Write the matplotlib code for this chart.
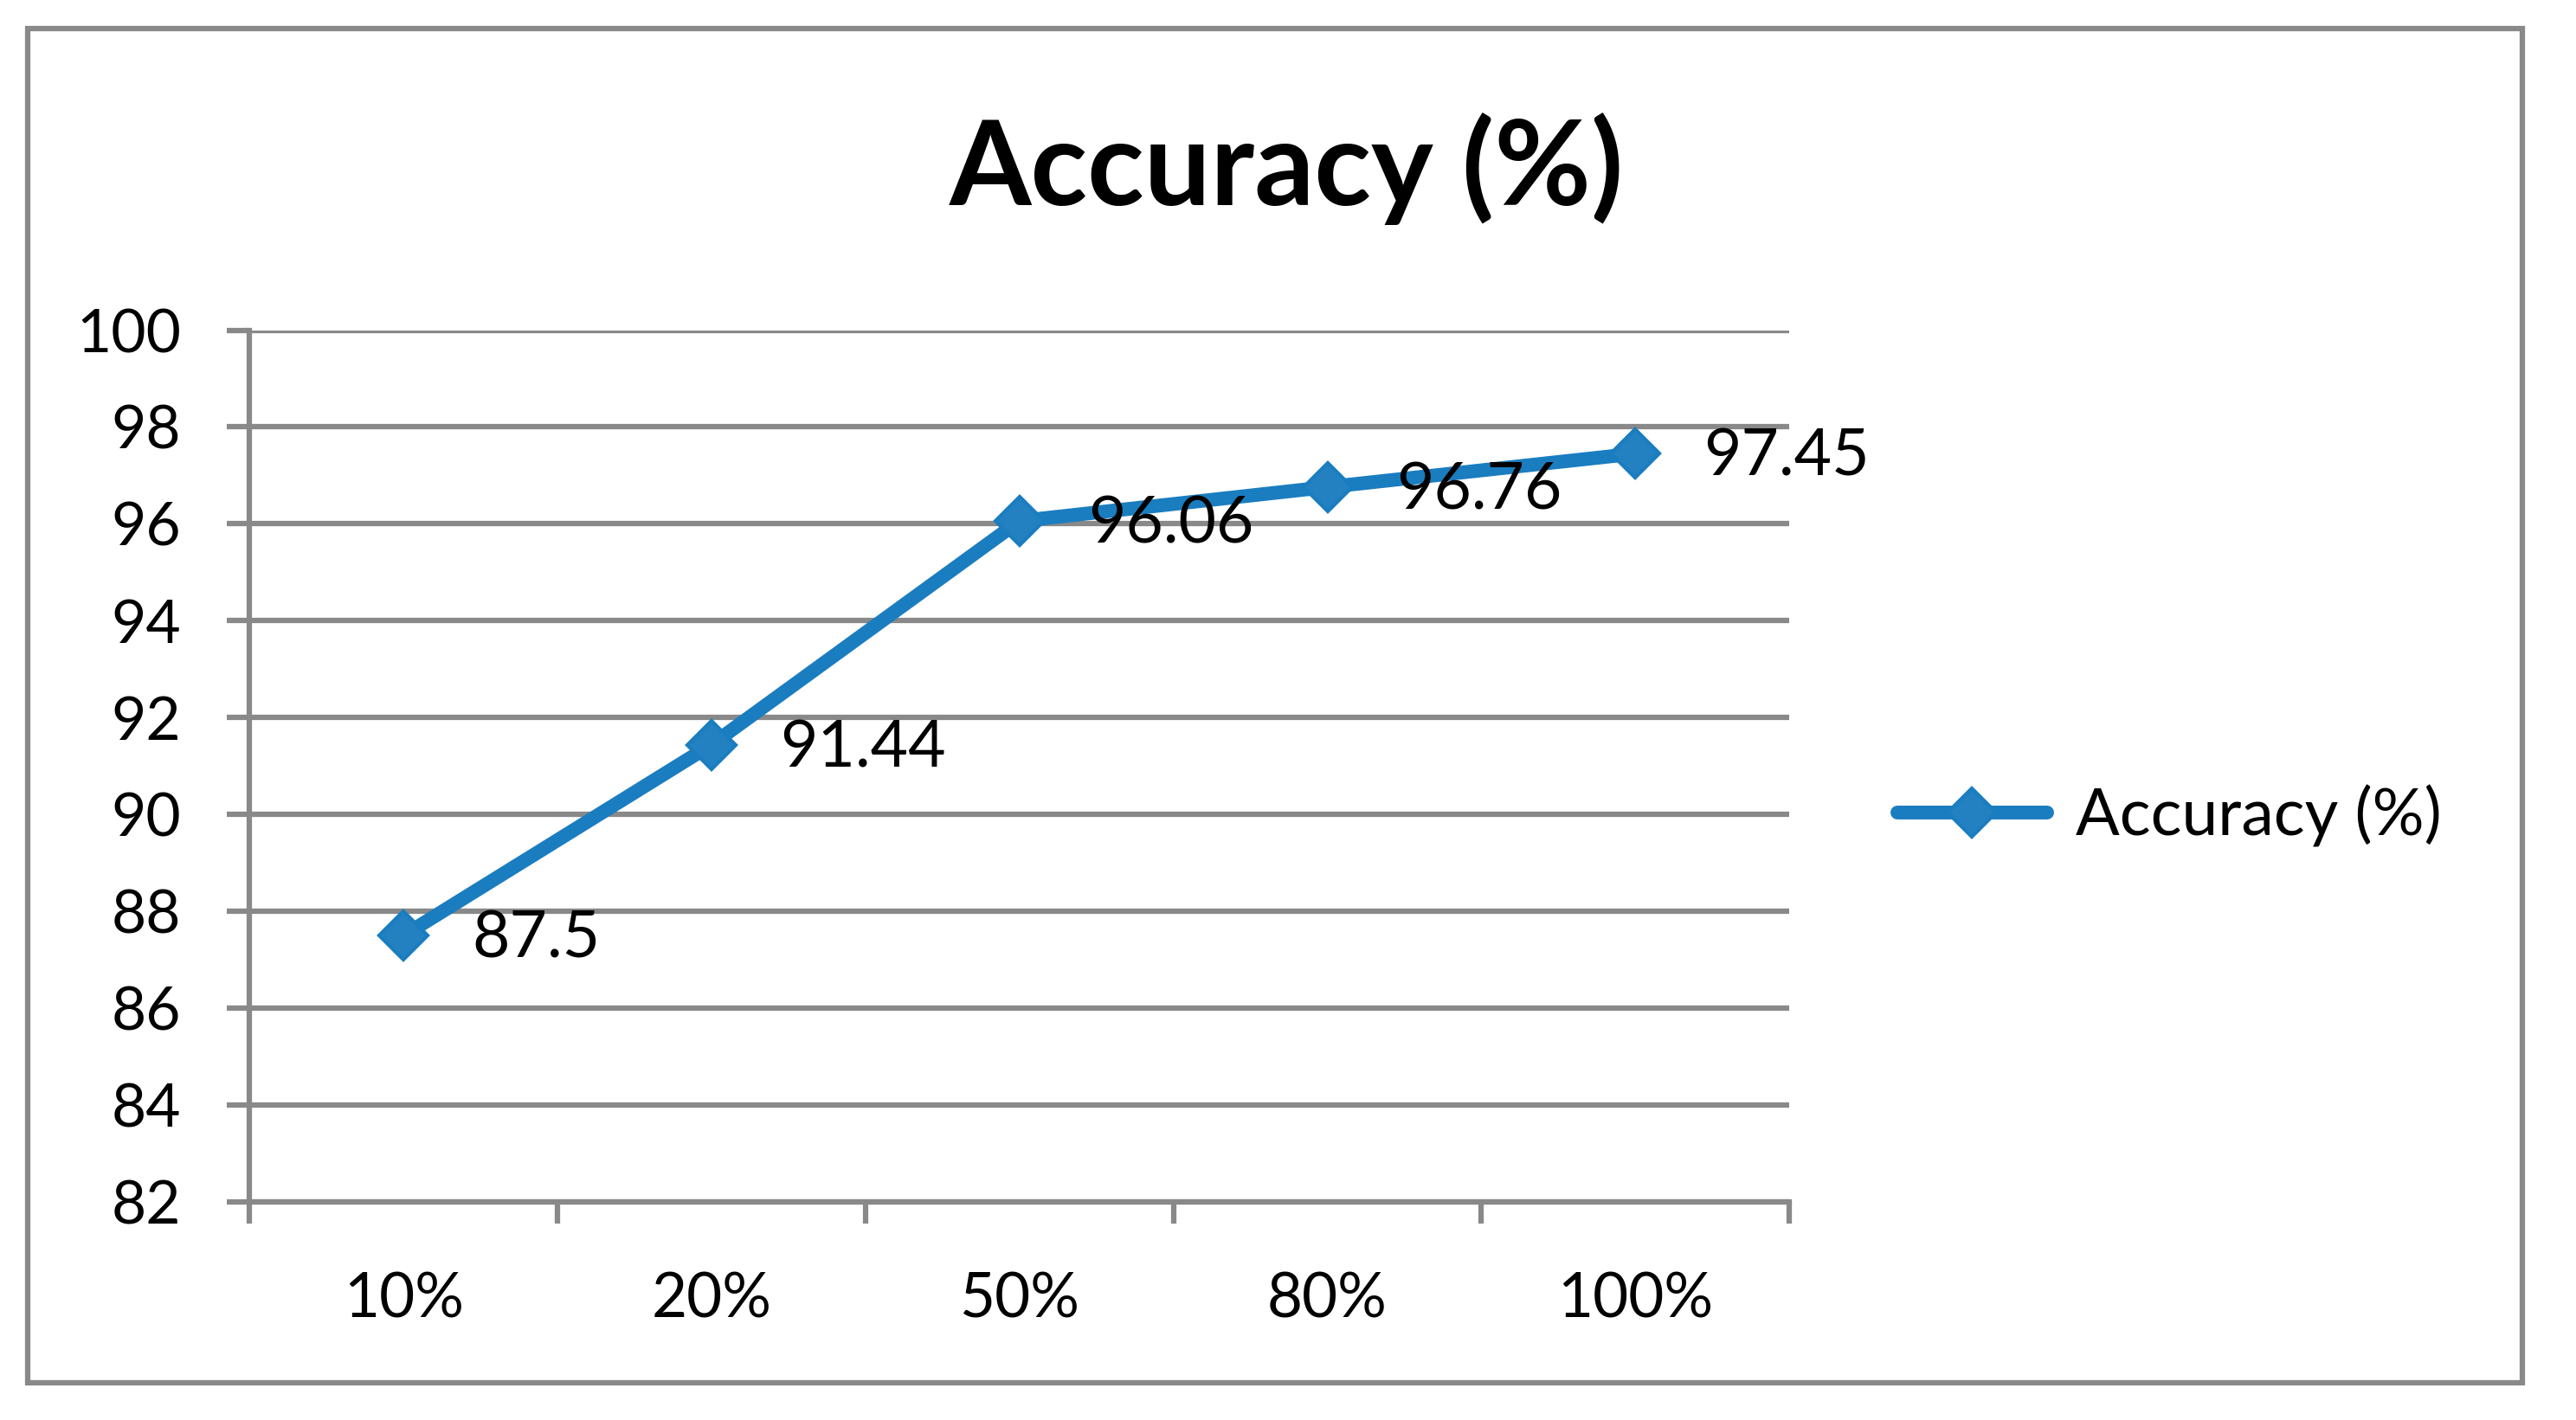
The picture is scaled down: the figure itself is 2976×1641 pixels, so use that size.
import matplotlib.pyplot as plt
from matplotlib.patches import Rectangle

# --- DATA ---
categories = ["10%", "20%", "50%", "80%", "100%"]
accuracy = [87.5, 91.44, 96.06, 96.76, 97.45]
y_ticks = [82, 84, 86, 88, 90, 92, 94, 96, 98, 100]
series_name = "Accuracy (%)"

# --- STYLE ---
FONT = "Lato"
GRAY = "#898989"
BLUE = "#1a7dc0"
BLUE_FILL = "#2381c1"

plt.rcParams["font.family"] = [FONT, "DejaVu Sans"]

fig = plt.figure(figsize=(29.76, 16.41), dpi=100)
ax = fig.add_axes([0.0969, 0.1536, 0.6946 - 0.0969, 0.7675 - 0.1536])

# outer chart frame
fig.patches.append(Rectangle((0.0108, 0.026), 0.979 - 0.0108, 0.980 - 0.026,
                             transform=fig.transFigure, fill=False,
                             edgecolor=GRAY, linewidth=4.5))

x = list(range(1, len(categories) + 1))
ax.plot(x, accuracy, color=BLUE, linewidth=11.5, solid_capstyle="round",
        marker="D", markersize=29, markerfacecolor=BLUE_FILL,
        markeredgecolor=BLUE, markeredgewidth=3, label=series_name, zorder=3)

for xi, v in zip(x, accuracy):
    ax.annotate(f"{v:g}", (xi, v), xytext=(57, -3), textcoords="offset points",
                ha="left", va="center", fontsize=54, color="black", zorder=4)

ax.set_xlim(0.5, len(categories) + 0.5)
ax.set_ylim(82, 100)

# category boundaries as major ticks, labels on minor ticks at centres
ax.set_xticks([i + 0.5 for i in range(len(categories) + 1)])
ax.set_xticklabels([])
ax.set_xticks(x, minor=True)
ax.set_xticklabels(categories, minor=True)
ax.tick_params(axis="x", which="major", direction="out", length=18, width=4.5, color=GRAY)
ax.tick_params(axis="x", which="minor", length=0, pad=58, labelsize=51)

ax.set_yticks(y_ticks)
ax.tick_params(axis="y", direction="out", length=19, width=4.5, color=GRAY,
               pad=38, labelsize=50)

ax.grid(axis="y", color=GRAY, linewidth=4.5)
ax.set_axisbelow(True)
for side in ["top", "right"]:
    ax.spines[side].set_visible(False)
for side in ["left", "bottom"]:
    ax.spines[side].set_color(GRAY)
    ax.spines[side].set_linewidth(4.5)

fig.text(0.4994, 0.881, "Accuracy (%)", ha="center", va="center",
         fontsize=98, fontweight="bold", color="black")

ax.legend(loc="center left", bbox_to_anchor=(0.7366, 0.4254),
          bbox_transform=fig.transFigure, frameon=False, fontsize=54,
          handlelength=2.3, handletextpad=0.45, borderpad=0, borderaxespad=0)

fig.savefig("out.png", dpi=100)
